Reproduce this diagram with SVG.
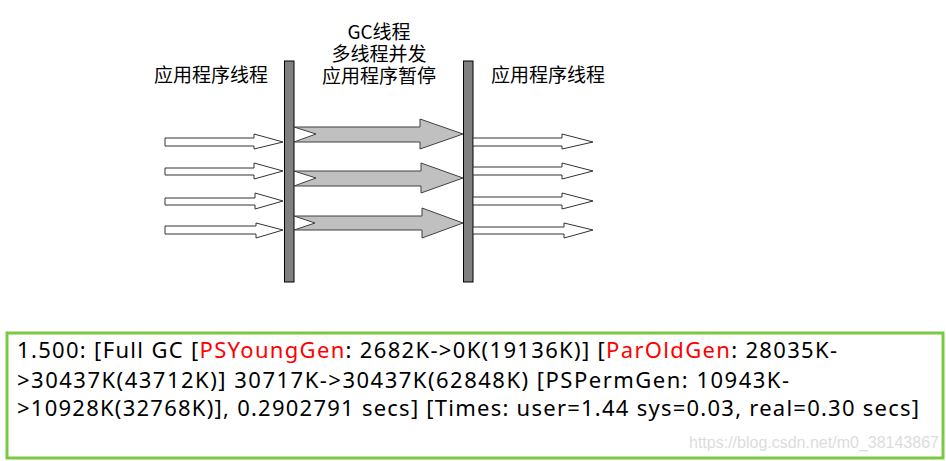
<svg xmlns="http://www.w3.org/2000/svg" width="946" height="461" viewBox="0 0 946 461">
<style>
.bar{fill:#808080;stroke:#000;stroke-width:1}
.wa{fill:#fff;stroke:#333;stroke-width:1}
.ga{fill:#c0c0c0;stroke:#404040;stroke-width:1}
.lbl{font-family:"Noto Sans CJK SC","Noto Sans",sans-serif;font-size:19px;fill:#000;text-anchor:middle}
.log{font-family:"Noto Sans","Open Sans",sans-serif;font-size:22px;fill:#000}
.red{fill:#ff0000}
.wm{font-family:"Liberation Sans",Arial,sans-serif;font-size:16px;fill:#dcdcdc}
</style>
<rect width="946" height="461" fill="#fff"/>
<g id="label-left"><text class="lbl" x="211" y="82">应用程序线程</text></g>
<g id="label-gc"><text class="lbl" x="379" y="39">GC线程<tspan x="379" dy="22">多线程并发</tspan><tspan x="379" dy="22">应用程序暂停</tspan></text></g>
<g id="label-right"><text class="lbl" x="548" y="82">应用程序线程</text></g>
<g id="bar-left"><rect class="bar" x="284.5" y="61" width="9.5" height="221"/></g>
<g id="bar-right"><rect class="bar" x="463.5" y="61" width="9.5" height="221"/></g>
<g id="connectors">
<polygon class="wa" points="165,138 254,138 254,134 283,142 254,149 254,146 165,146"/>
<polygon class="wa" points="165,168 254,168 254,163 283,171 254,179 254,175 165,175"/>
<polygon class="wa" points="165,198 255,198 255,193 283,201 255,209 255,205 165,205"/>
<polygon class="wa" points="165,226 256,226 256,223 283,230 256,238 256,234 165,234"/>
<polygon class="ga" points="294,127 420,127 420,119 463,134 420,149 420,142 294,142 316,134"/>
<polygon class="ga" points="294,171 421,171 421,163 463,178 421,193 421,186 294,186 316,178"/>
<polygon class="ga" points="294,216 422,216 422,208 463,223 422,238 422,230 294,230 315,223"/>
<polygon class="wa" points="473,138 562,138 562,134 593,142 562,149 562,146 473,146"/>
<polygon class="wa" points="473,167 562,167 562,163 593,171 562,179 562,175 473,175"/>
<polygon class="wa" points="473,197 562,197 562,193 593,201 562,209 562,205 473,205"/>
<polygon class="wa" points="473,227 564,227 564,223 593,230 564,238 564,234 473,234"/>
</g>
<g id="log-box">
<rect x="7" y="333" width="936" height="125" fill="#fff" stroke="#7ac943" stroke-width="3"/>
<text class="log" x="17" y="358" textLength="820" lengthAdjust="spacing">1.500: [Full GC [<tspan class="red">PSYoungGen</tspan>: 2682K-&gt;0K(19136K)] [<tspan class="red">ParOldGen</tspan>: 28035K-</text>
<text class="log" x="17" y="388" textLength="772" lengthAdjust="spacing">&gt;30437K(43712K)] 30717K-&gt;30437K(62848K) [PSPermGen: 10943K-</text>
<text class="log" x="17" y="416" textLength="902" lengthAdjust="spacing">&gt;10928K(32768K)], 0.2902791 secs] [Times: user=1.44 sys=0.03, real=0.30 secs]</text>
<text class="wm" x="689" y="448">https://blog.csdn.net/m0_38143867</text>
</g>
</svg>
